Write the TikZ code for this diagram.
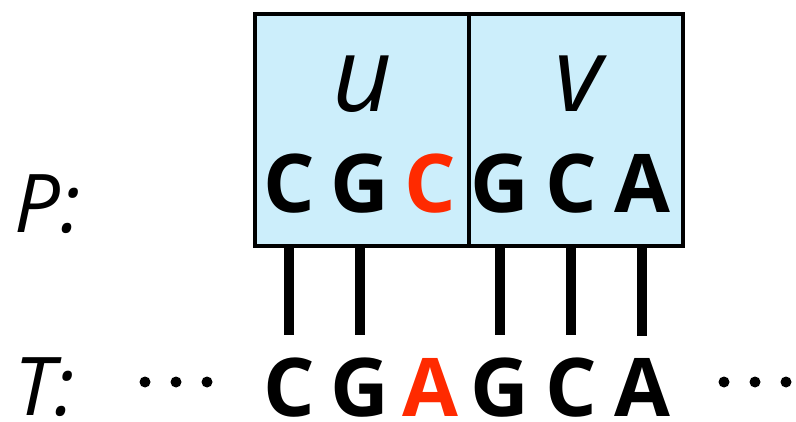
\documentclass[tikz,border=0pt]{standalone}
\usepackage{fontspec}
\setmainfont{Open Sans}
\usepackage{xcolor}
\definecolor{boxblue}{RGB}{204,238,251}
\definecolor{mism}{RGB}{255,42,0}
\tikzset{
  seqbox/.style = {draw, fill=boxblue, line width=4pt, inner sep=0pt,
                   minimum width=214pt, minimum height=232pt},
  letter/.style = {anchor=base, inner sep=0pt, font=\fontsize{81}{81}\selectfont\bfseries},
  half/.style = {anchor=base, inner sep=0pt, font=\fontsize{104}{104}\selectfont\itshape},
  seqname/.style = {anchor=base west, inner sep=0pt, font=\fontsize{81}{81}\selectfont\itshape},
  match/.style = {line width=10pt},
}
\begin{document}
\begin{tikzpicture}[x=1pt,y=-1pt]
	\useasboundingbox (0,0) rectangle (796,422);
	\node[seqbox] (ubox) at (362,130) {};
	\node[seqbox] (vbox) at (576,130) {};
	\node[half] (u) at (362,112) {u};
	\node[half] (v) at (578,112) {v};
	\node[seqname] (P) at (14,233) {P:};
	\node[seqname] (T) at (14,415) {T:};
	% pattern letters
	\node[letter] (p1) at (289,213) {C};
	\node[letter] (p2) at (360,213) {G};
	\node[letter, mism] (p3) at (430,213) {C};
	\node[letter] (p4) at (500,213) {G};
	\node[letter] (p5) at (571,213) {C};
	\node[letter] (p6) at (642,213) {A};
	% text letters
	\node[letter] (t1) at (289,416) {C};
	\node[letter] (t2) at (360,416) {G};
	\node[letter, mism] (t3) at (430,416) {A};
	\node[letter] (t4) at (500,416) {G};
	\node[letter] (t5) at (571,416) {C};
	\node[letter] (t6) at (642,416) {A};
	\foreach \i in {1,2,4,5,6}
		\draw[match] (p\i |- ubox.south) -- ([yshift=22pt]t\i.north);
	\foreach \x in {145,176,207,724,755,786}
		\fill (\x,382) circle (5.5);
\end{tikzpicture}
\end{document}
